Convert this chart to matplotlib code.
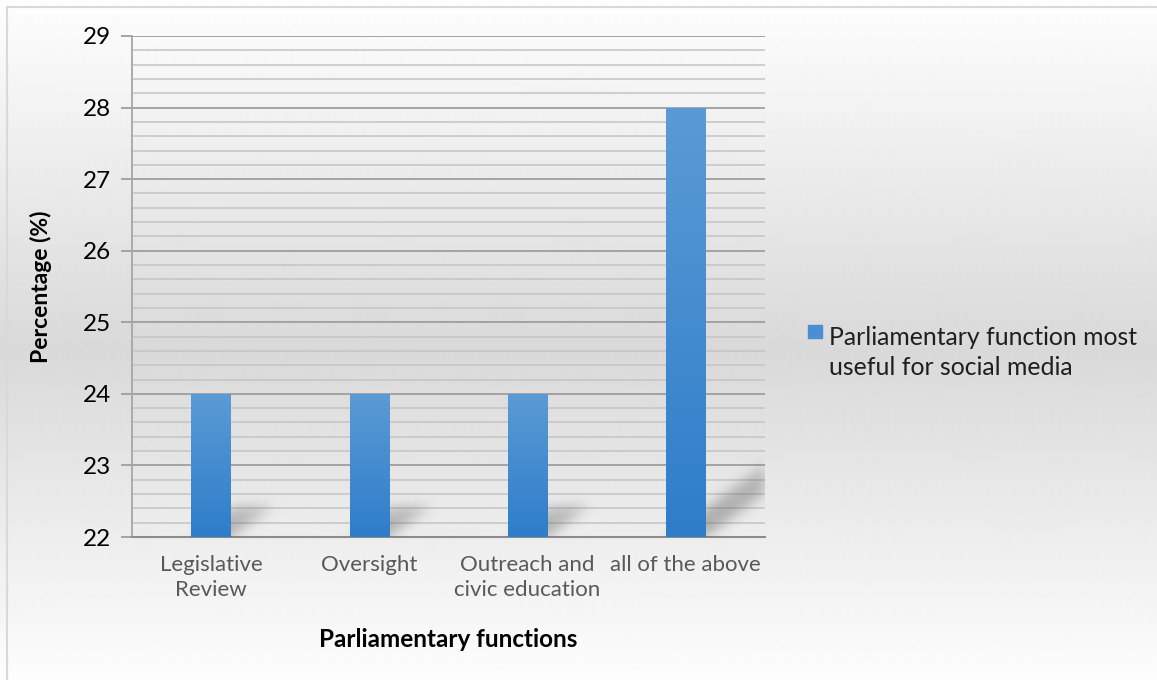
import numpy as np
import matplotlib
matplotlib.use("Agg")
import matplotlib.pyplot as plt
from matplotlib.patches import Rectangle
from matplotlib.ticker import MultipleLocator

# survey answers: which parliamentary function benefits most from social media
functions = ["Legislative\nReview", "Oversight", "Outreach and\ncivic education", "all of the above"]
percent = [24, 24, 24, 28]
series_name = "Parliamentary function most\nuseful for social media"
y_range = (22, 29)

plt.rcParams['font.family'] = ['Lato', 'DejaVu Sans']

W, H = 1157, 680
fig = plt.figure(figsize=(W / 100, H / 100), dpi=100)

# backdrop: grey band in the middle fading to white at top and bottom
bg = fig.add_axes([0, 0, 1, 1], zorder=-10)
rows = np.arange(H)
peak = 350
shade = np.where(rows < peak,
                 253 - 36 * (rows - 7) / (peak - 7),
                 217 + 36 * (rows - peak) / (H - peak))
shade = np.clip(shade, 0, 255) / 255
bg.imshow(np.repeat(shade[:, None], 2, axis=1), cmap='gray', vmin=0, vmax=1,
          aspect='auto', extent=[0, 1, 0, 1], interpolation='bilinear')
bg.add_patch(Rectangle((7 / W, -0.1), 1.2, 1.1 - 7 / H, fill=False,
                       ec='#d9d9d9', lw=1.5, transform=bg.transAxes))
bg.set_xlim(0, 1)
bg.set_ylim(0, 1)
bg.set_axis_off()

ax = fig.add_axes([132 / W, 1 - 537 / H, (765 - 132) / W, (537 - 36) / H])
ax.set_facecolor('none')
x = np.arange(len(functions))
ax.set_xlim(-0.5, len(functions) - 0.5)
ax.set_ylim(*y_range)
ax.set_autoscale_on(False)

bars = ax.bar(x, percent, width=0.25, color='none', zorder=4)

# vertical blue gradient inside each bar
top_c = np.array([91, 155, 213]) / 255
bot_c = np.array([46, 125, 202]) / 255
grad = np.linspace(0, 1, 256)[:, None]
grad_img = (top_c * (1 - grad) + bot_c * grad)[:, None, :]
for rect in bars:
    x0 = rect.get_x()
    im = ax.imshow(grad_img, extent=[x0, x0 + rect.get_width(), y_range[0], rect.get_height()],
                   aspect='auto', zorder=4, interpolation='bilinear')
    im.set_clip_path(rect)

# soft slanted shadows cast behind the bars
bb = ax.get_window_extent()
aw, ah = int(round(bb.width)), int(round(bb.height))
px = np.arange(aw) + 0.5 + bb.x0
py = np.arange(ah)[::-1] + 0.5 + bb.y0
PX, PY = np.meshgrid(px, py)
alpha = np.zeros((ah, aw))
for rect in bars:
    (xl, yb), (xr, yt) = ax.transData.transform(
        [(rect.get_x(), y_range[0]), (rect.get_x() + rect.get_width(), rect.get_height())])
    h = yt - yb
    dx, dy = 0.3 * h, 0.22 * h
    t = (PY - yb) / dy
    sx = PX - t * dx
    inside = (t >= 0) & (t <= 1) & (sx >= xl) & (sx <= xr)
    alpha = np.maximum(alpha, inside * (1 - 0.35 * t))
k = np.exp(-0.5 * (np.arange(-18, 19) / 6.0) ** 2)
k /= k.sum()
alpha = np.apply_along_axis(lambda r: np.convolve(r, k, mode='same'), 1, alpha)
alpha = np.apply_along_axis(lambda c: np.convolve(c, k, mode='same'), 0, alpha)
shadow = np.zeros((ah, aw, 4))
shadow[..., :3] = 0.35
shadow[..., 3] = alpha * 0.45
ax.imshow(shadow, extent=[0, 1, 0, 1], transform=ax.transAxes, aspect='auto', zorder=3)

# grid
ax.yaxis.set_major_locator(MultipleLocator(1))
ax.yaxis.set_minor_locator(MultipleLocator(0.2))
ax.grid(axis='y', which='minor', color='#c4c4c4', lw=1.1, zorder=1)
ax.grid(axis='y', which='major', color='#9e9e9e', lw=1.3, zorder=2)
ax.set_axisbelow(True)

for side in ('top', 'right'):
    ax.spines[side].set_visible(False)
ax.spines['left'].set_color('#a6a6a6')
ax.spines['left'].set_linewidth(1.3)
ax.spines['bottom'].set_color('#8c8c8c')
ax.spines['bottom'].set_linewidth(1.5)

ax.set_xticks(x)
ax.set_xticklabels(functions, color='#595959', fontsize=16, linespacing=1.3)
ax.tick_params(axis='x', length=0, pad=13)
ax.tick_params(axis='y', which='major', length=8, width=1.3, color='#9e9e9e',
               labelsize=17.5, pad=7, labelcolor='#000000')
ax.tick_params(axis='y', which='minor', length=0)

ax.set_ylabel("Percentage (%)", fontsize=16.5, fontweight='bold', labelpad=22)
ax.set_xlabel("Parliamentary functions", fontsize=17.5, fontweight='bold', labelpad=20)

# legend entry drawn beside the plot
fig.patches.append(Rectangle((808 / W, 1 - 338 / H), 14 / W, 13 / H,
                             transform=fig.transFigure, color='#4a8fd4'))
fig.text(829 / W, 1 - 326 / H, series_name, fontsize=17.8, color='#1f1f1f',
         va='top', ha='left', linespacing=1.38)

fig.savefig("out.png", dpi=100)
